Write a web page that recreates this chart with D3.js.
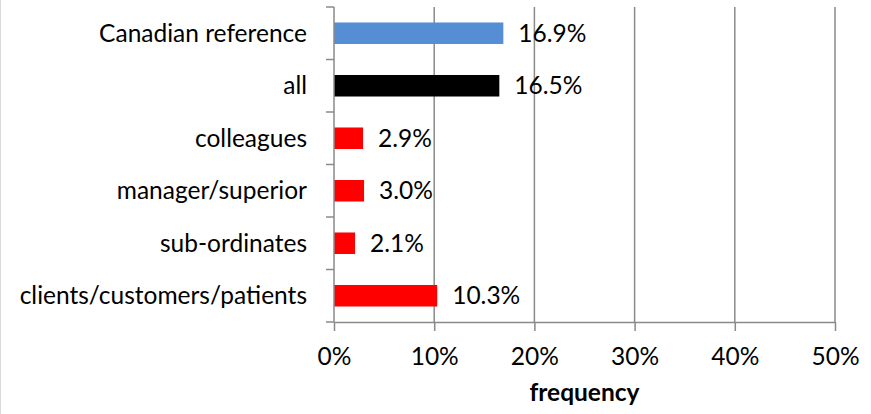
<!DOCTYPE html>
<html>
<head>
<meta charset="utf-8">
<script src="https://cdn.jsdelivr.net/npm/d3@7"></script>
<style>
  html, body { margin: 0; padding: 0; background: #fff; }
  svg { display: block; }
  text { font-family: Lato, "Liberation Sans", sans-serif; fill: #000; }
</style>
</head>
<body>
<svg id="chart" width="871" height="414"></svg>
<script>
// Share of respondents reporting harassment, by source
const categories = ["Canadian reference", "all", "colleagues", "manager/superior", "sub-ordinates", "clients/customers/patients"];
const values = [16.9, 16.5, 2.9, 3.0, 2.1, 10.3];
const barColors = ["#558ED5", "#000000", "#FF0000", "#FF0000", "#FF0000", "#FF0000"];
const xTicks = [0, 10, 20, 30, 40, 50];
const xTitle = "frequency";

const W = 871, H = 414;
const margin = { top: 7, right: 36, bottom: 92, left: 334 };
const plotW = W - margin.left - margin.right;
const plotH = H - margin.top - margin.bottom;
const fontSize = 24.5;

const svg = d3.select("#chart");

// outer chart border (only the left edge falls inside the view)
svg.append("line")
  .attr("x1", 0.5).attr("x2", 0.5).attr("y1", 0).attr("y2", H)
  .attr("stroke", "#d9d9d9").attr("stroke-width", 1);

const g = svg.append("g").attr("transform", `translate(${margin.left},${margin.top})`);

const x = d3.scaleLinear().domain([0, 50]).range([0, plotW]);
const y = d3.scaleBand().domain(categories).range([0, plotH]).paddingInner(0.59).paddingOuter(0.295);
const yBounds = d3.scaleLinear().domain([0, categories.length]).range([0, plotH]);

const gridColor = "#8a8a8a";

// vertical gridlines
g.append("g").selectAll("line")
  .data(xTicks.filter(t => t > 0))
  .join("line")
  .attr("x1", d => x(d)).attr("x2", d => x(d))
  .attr("y1", 0).attr("y2", plotH)
  .attr("stroke", gridColor).attr("stroke-width", 1.5);

// bars
g.append("g").selectAll("rect")
  .data(categories)
  .join("rect")
  .attr("x", x(0))
  .attr("y", d => y(d))
  .attr("width", (d, i) => x(values[i]) - x(0))
  .attr("height", y.bandwidth())
  .attr("fill", (d, i) => barColors[i]);

// value labels
g.append("g").selectAll("text")
  .data(categories)
  .join("text")
  .attr("x", (d, i) => x(values[i]) + 15)
  .attr("y", d => y(d) + y.bandwidth() / 2)
  .attr("dy", "0.35em")
  .attr("font-size", fontSize)
  .text((d, i) => values[i].toFixed(1) + "%");

// x axis
const xAxis = g.append("g")
  .attr("transform", `translate(0,${plotH})`)
  .call(d3.axisBottom(x).tickValues(xTicks).tickFormat(d => d + "%").tickSize(9).tickSizeOuter(0).tickPadding(17));
xAxis.select(".domain").attr("stroke", gridColor).attr("stroke-width", 1.5);
xAxis.selectAll(".tick line").attr("stroke", gridColor).attr("stroke-width", 1.5);
xAxis.selectAll(".tick text").attr("font-size", fontSize).attr("font-family", null);

// y axis: line with ticks at category boundaries
g.append("line")
  .attr("x1", 0).attr("x2", 0).attr("y1", 0).attr("y2", plotH)
  .attr("stroke", gridColor).attr("stroke-width", 1.5);
g.append("g").selectAll("line")
  .data(d3.range(categories.length + 1))
  .join("line")
  .attr("x1", -8).attr("x2", 0)
  .attr("y1", d => yBounds(d)).attr("y2", d => yBounds(d))
  .attr("stroke", gridColor).attr("stroke-width", 1.5);

// category labels
g.append("g").selectAll("text")
  .data(categories)
  .join("text")
  .attr("x", -27)
  .attr("y", d => y(d) + y.bandwidth() / 2)
  .attr("dy", "0.35em")
  .attr("text-anchor", "end")
  .attr("font-size", fontSize)
  .text(d => d);

// axis title
g.append("text")
  .attr("x", plotW / 2)
  .attr("y", plotH + 79)
  .attr("text-anchor", "middle")
  .attr("font-size", fontSize)
  .attr("font-weight", "bold")
  .text(xTitle);
</script>
</body>
</html>
